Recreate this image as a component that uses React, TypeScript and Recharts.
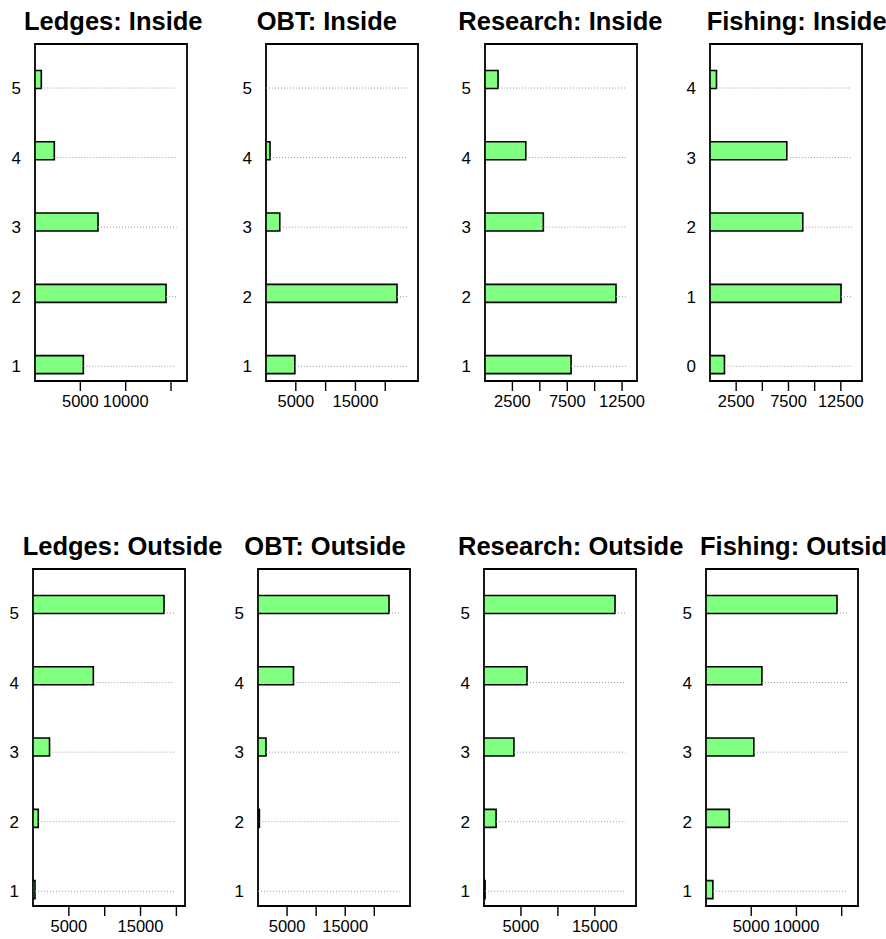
import React from 'react';
import {
	BarChart,
	Bar,
	XAxis,
	YAxis,
	ReferenceArea,
	ReferenceLine,
} from 'recharts';

// rank categories
const ranks = [1, 2, 3, 4, 5];
const fishingRanks = [0, 1, 2, 3, 4];

// values per rank (bottom to top)
const ledgesInside = [5330, 14450, 6950, 2130, 695];
const obtInside = [4840, 21975, 2310, 675, 0];
const researchInside = [7850, 11950, 5320, 3720, 1190];
const fishingInside = [1380, 12520, 8865, 7340, 620];
const ledgesOutside = [280, 736, 2306, 8417, 18278];
const obtOutside = [0, 240, 1379, 6103, 22534];
const researchOutside = [150, 1637, 4050, 5824, 17730];
const fishingOutside = [759, 2578, 5290, 6183, 14487];

// x tick values and the labels that are printed
const ticks5k3 = [5000, 10000, 15000];
const ticks5k4 = [5000, 10000, 15000, 20000];
const ticks2500 = [2500, 5000, 7500, 10000, 12500];
const labels5k3a = ['5000', '10000', ''];
const labels5k3b = ['5000', '', '15000'];
const labels5k4 = ['5000', '', '15000', ''];
const labels2500 = ['2500', '', '7500', '', '12500'];

const titles = [
	'Ledges: Inside',
	'OBT: Inside',
	'Research: Inside',
	'Fishing: Inside',
	'Ledges: Outside',
	'OBT: Outside',
	'Research: Outside',
	'Fishing: Outside',
];

const panels = [
	{ cats: ranks, vals: ledgesInside, ticks: ticks5k3, labels: labels5k3a },
	{ cats: ranks, vals: obtInside, ticks: ticks5k4, labels: labels5k4 },
	{ cats: ranks, vals: researchInside, ticks: ticks2500, labels: labels2500 },
	{ cats: fishingRanks, vals: fishingInside, ticks: ticks2500, labels: labels2500 },
	{ cats: ranks, vals: ledgesOutside, ticks: ticks5k4, labels: labels5k4 },
	{ cats: ranks, vals: obtOutside, ticks: ticks5k4, labels: labels5k4 },
	{ cats: ranks, vals: researchOutside, ticks: ticks5k3, labels: labels5k3b },
	{ cats: ranks, vals: fishingOutside, ticks: ticks5k3, labels: labels5k3a },
];

// where each panel's box sits on the page
const boxes = [
	{ left: 35, top: 44, titleX: 24 },
	{ left: 266.3, top: 44, titleX: 256.7 },
	{ left: 484.9, top: 44, titleX: 458.3 },
	{ left: 709.8, top: 44, titleX: 706.7 },
	{ left: 32.7, top: 569, titleX: 22.7 },
	{ left: 258.3, top: 569, titleX: 244.3 },
	{ left: 484.3, top: 569, titleX: 458 },
	{ left: 705.9, top: 569, titleX: 700 },
];

const BOX_W = 152;
const BOX_H = 337;
const YAX_W = 40;
const PAD = 6;
const PAD_R = 24;
const FONT = '"Liberation Sans", Arial, Helvetica, sans-serif';

const Panel = ({ idx }: { idx: number }) => {
	const p = panels[idx];
	const b = boxes[idx];
	const rows = p.cats.map((c, i) => ({ rank: c, value: p.vals[i] }));
	const max = Math.max(...p.vals);
	const first = p.cats[0];
	const last = p.cats[p.cats.length - 1];
	const xMax = max * 1.16;
	const gridEnd = max * 1.08;
	const yLo = first - 0.212;
	const yHi = last + 0.633;

	return (
		<div style={{ position: 'absolute', left: b.left - YAX_W, top: b.top - PAD }}>
			<BarChart
				width={YAX_W + BOX_W + PAD_R}
				height={PAD + BOX_H + 45}
				layout='vertical'
				data={rows}
				margin={{ top: PAD, right: PAD_R, bottom: 0, left: 0 }}
			>
				<XAxis
					type='number'
					dataKey='value'
					domain={[0, xMax]}
					allowDataOverflow
					ticks={p.ticks}
					interval={0}
					tickFormatter={(v) => p.labels[p.ticks.indexOf(v)] ?? ''}
					axisLine={false}
					tickSize={10}
					tickMargin={4}
					tickLine={{ stroke: '#000', strokeWidth: 1.4 }}
					tick={{ fill: '#000', fontSize: 16.5, fontFamily: FONT }}
					height={45}
				/>
				<YAxis
					yAxisId='lab'
					type='number'
					dataKey='rank'
					domain={[yLo, yHi]}
					allowDataOverflow
					ticks={p.cats}
					interval={0}
					reversed
					width={YAX_W}
					axisLine={false}
					tickLine={false}
					tickSize={0}
					tickMargin={14}
					tick={{ fill: '#000', fontSize: 17, fontFamily: FONT }}
				/>
				<YAxis
					yAxisId='bar'
					type='number'
					dataKey='rank'
					orientation='right'
					width={0}
					domain={[first - 0.234, last + 0.492]}
					allowDataOverflow
					reversed
					hide
				/>
				{rows.map((r) => (
					<ReferenceLine
						key={r.rank}
						yAxisId='lab'
						segment={[
							{ x: r.value, y: r.rank },
							{ x: gridEnd, y: r.rank },
						]}
						stroke='#999999'
						strokeDasharray='1 2'
						strokeWidth={1}
					/>
				))}
				<Bar
					yAxisId='bar'
					dataKey='value'
					fill='#80ff80'
					stroke='#000'
					strokeWidth={1.6}
					barSize={18}
					isAnimationActive={false}
				/>
				<ReferenceArea
					yAxisId='lab'
					x1={0}
					x2={xMax}
					y1={yLo}
					y2={yHi}
					fill='none'
					fillOpacity={0}
					stroke='#000'
					strokeOpacity={1}
					strokeWidth={1.8}
				/>
			</BarChart>
		</div>
	);
};

const App = () => {
	return (
		<div
			style={{
				position: 'absolute',
				left: 0,
				top: 0,
				width: 886,
				height: 939,
				overflow: 'hidden',
				background: '#fff',
			}}
		>
			{titles.map((t, i) => (
				<div
					key={t}
					style={{
						position: 'absolute',
						left: boxes[i].titleX,
						top: boxes[i].top - 36,
						whiteSpace: 'nowrap',
						fontFamily: FONT,
						fontWeight: 'bold',
						fontSize: 25.5,
						lineHeight: '26px',
					}}
				>
					{t}
				</div>
			))}
			{panels.map((_, i) => (
				<Panel
					key={i}
					idx={i}
				/>
			))}
		</div>
	);
};

export default App;
